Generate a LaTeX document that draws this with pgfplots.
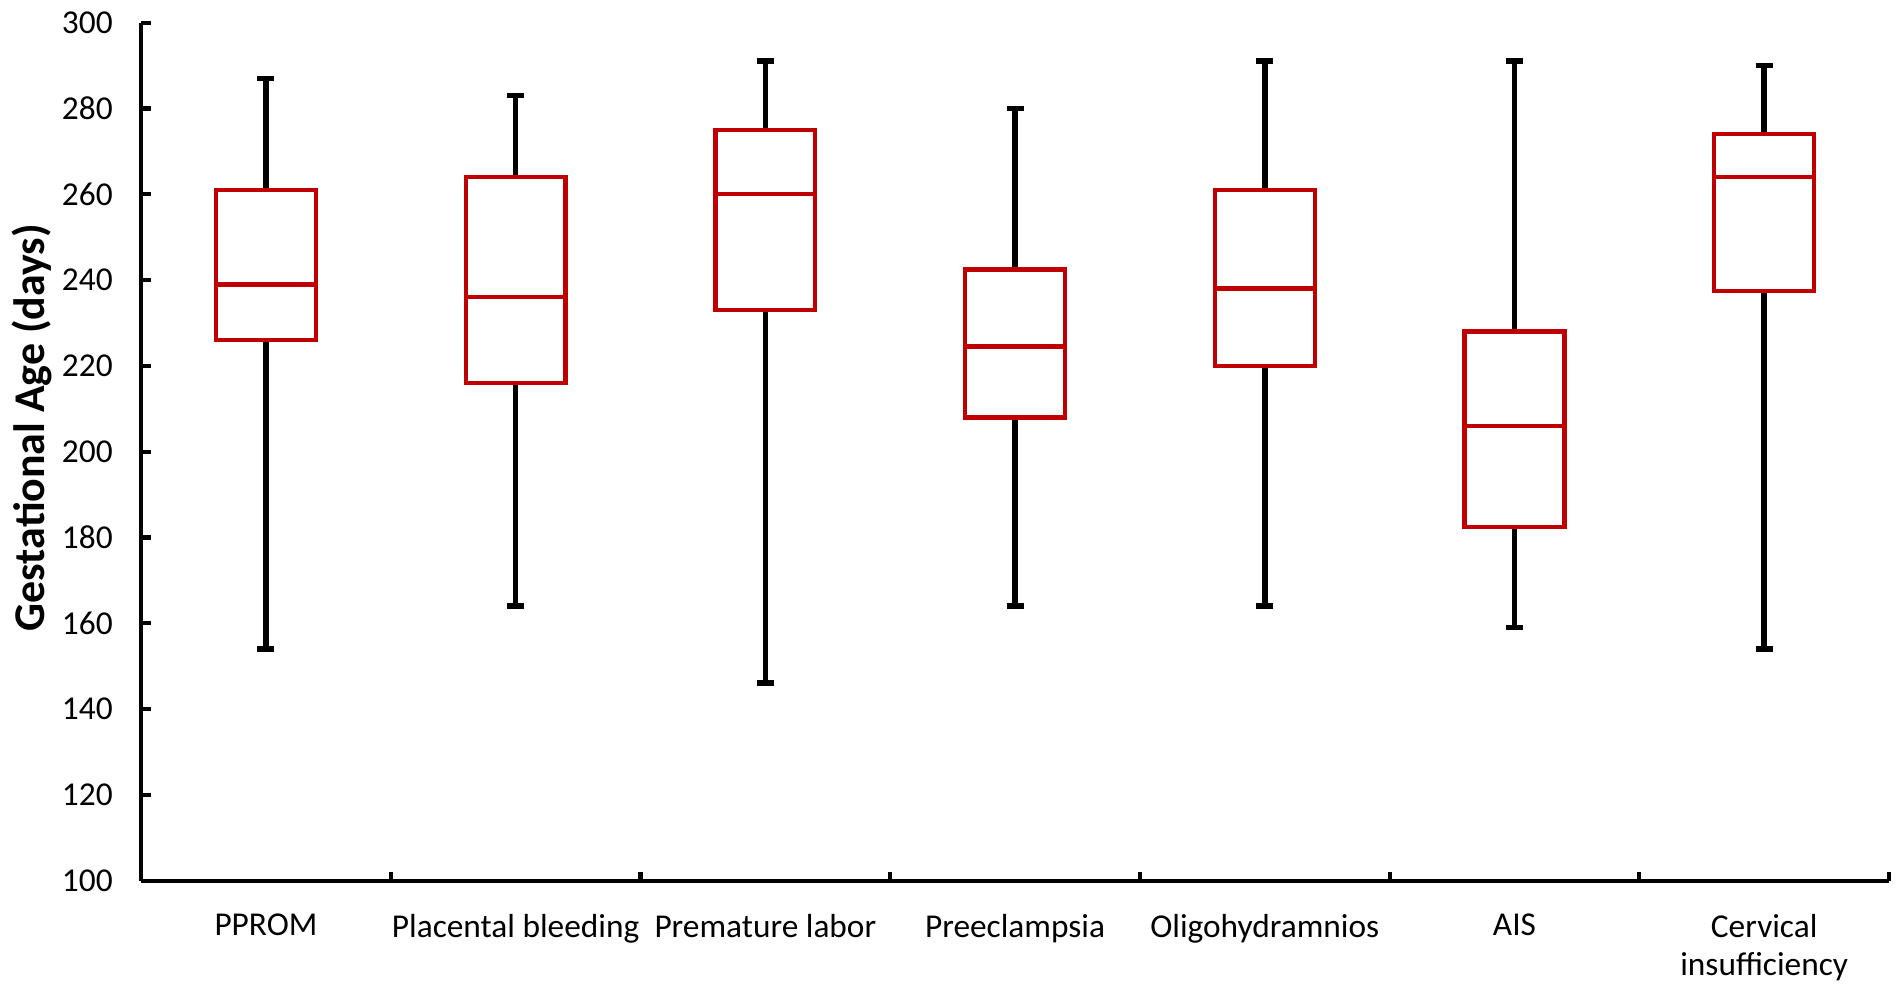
\documentclass[border=0pt]{standalone}
\usepackage{pgfplots}
\usepackage{pgfplotstable}
\pgfplotsset{compat=1.18}
\usepackage{fontspec}
\setmainfont{Carlito}
\begin{document}
% lower whisker, Q1, median, Q3, upper whisker (days)
\pgfplotstableread{
pos lw  q1    med   q3    uw
1   154 226   239   261   287
2   164 216   236   264   283
3   146 233   260   275   291
4   164 208   224.5 242.5 280
5   164 220   238   261   291
6   159 182.5 206   228   291
7   154 237.5 264   274   290
}\boxdata
\begin{tikzpicture}
    \definecolor{boxred}{RGB}{192,0,0}
    \begin{axis}[
            name=ax,
            scale only axis,
            width=17.5cm,
            height=8.59cm,
            font=\fontsize{9.5}{11}\selectfont,
            /pgf/number format/assume math mode=true,
            axis lines*=left,
            axis line style={line width=1.2pt},
            xmin=0.5, xmax=7.5,
            ymin=100, ymax=300,
            ytick={100,120,...,300},
            xtick={1,...,7},
            xticklabels={PPROM, Placental bleeding, Premature labor, Preeclampsia, Oligohydramnios, AIS, {Cervical\\insufficiency}},
            xticklabel style={align=center, anchor=north, yshift=-0.21cm},
            major x tick style={draw=none},
            minor xtick={1.5,2.5,...,7.5},
            minor tick length=0.09cm,
            major tick length=0.1cm,
            tick style={black, line width=1.2pt},
            tick align=inside,
            yticklabel style={xshift=-0.16cm},
            ylabel={\fontsize{12.5}{14}\selectfont\bfseries Gestational Age (days)},
            ylabel style={at={([xshift=-1.095cm]rel axis cs:0,0.528)}, anchor=center},
            whisk/.style={draw=none, mark=none,
                error bars/.cd, y dir=#1, y explicit, error mark=|,
                error bar style={draw=black, line width=1.6pt},
                error mark options={draw=black, line width=1.6pt, mark size=0.085cm}},
            side/.style={draw=none, mark=none,
                error bars/.cd, y dir=plus, y explicit, error mark=none,
                error bar style={draw=boxred, line width=1.25pt, line cap=rect}},
            hbar/.style={boxred, only marks, mark=-, mark size=0.5cm},
        ]
        % upper whiskers
        \addplot [whisk=plus]
            table [x=pos, y=q3, y error plus expr=\thisrow{uw}-\thisrow{q3}] {\boxdata};
        % lower whiskers
        \addplot [whisk=minus]
            table [x=pos, y=q1, y error minus expr=\thisrow{q1}-\thisrow{lw}] {\boxdata};
        % box sides
        \addplot [side]
            table [x expr=\thisrow{pos}-0.2, y=q1, y error plus expr=\thisrow{q3}-\thisrow{q1}] {\boxdata};
        \addplot [side]
            table [x expr=\thisrow{pos}+0.2, y=q1, y error plus expr=\thisrow{q3}-\thisrow{q1}] {\boxdata};
        % box bottom, top and median
        \addplot [hbar, mark options={line width=1.25pt, line cap=rect}]
            table [x=pos, y=q1] {\boxdata};
        \addplot [hbar, mark options={line width=1.25pt, line cap=rect}]
            table [x=pos, y=q3] {\boxdata};
        \addplot [hbar, mark options={line width=1.25pt}]
            table [x=pos, y=med] {\boxdata};
    \end{axis}
    % page size as in the reference
    \path ([xshift=-1.395cm, yshift=-1.085cm]ax.south west) rectangle ([xshift=0.13cm, yshift=0.206cm]ax.north east);
\end{tikzpicture}
\end{document}
